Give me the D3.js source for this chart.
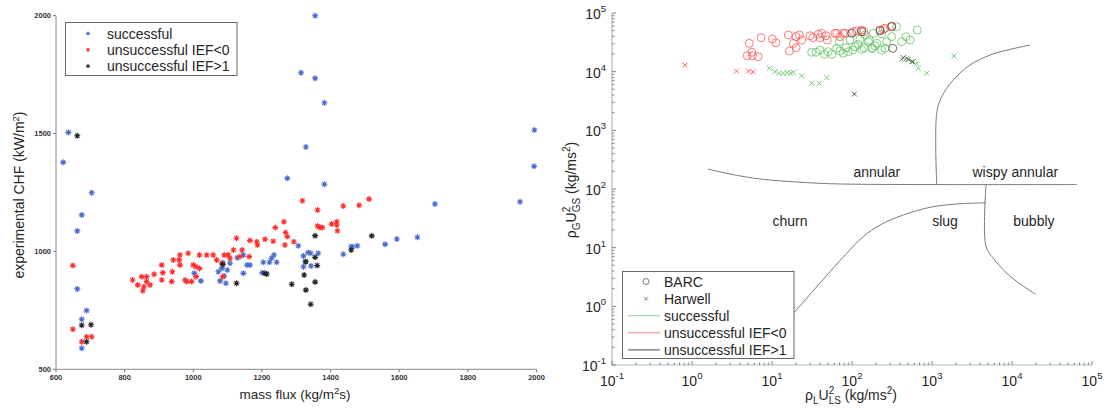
<!DOCTYPE html>
<html>
<head>
<meta charset="utf-8">
<script src="https://cdn.jsdelivr.net/npm/d3@7"></script>
<style>
  body { margin: 0; background: #fff; }
  svg { display: block; font-family: "Liberation Sans", Arial, Helvetica, sans-serif; }
</style>
</head>
<body>
<svg id="chart" width="1107" height="409"></svg>
<script>
// ---------- CHF test results: [mass flux (kg/m2s), experimental CHF (kW/m2)] ----------
const chfSuccessful = [
  [636,1505],[621,1378],[704,1249],[675,1155],[662,1087],[662,841],[689,749],[675,712],[675,589],
  [1274,1310],[1314,1758],[1355,2000],[1355,1735],[1382,1631],[1328,1443],[1382,1285],[1994,1515],
  [1993,1361],[1704,1201],[1952,1211],
  [1003,907],[1022,875],[1073,914],[1078,875],[1083,928],[1086,952],[1090,896],[1095,865],[1099,921],
  [1107,950],[1128,973],[1146,985],[1146,907],[1157,942],[1165,942],[1201,910],[1204,954],[1222,954],
  [1228,971],[1235,985],[1243,954],[1306,1024],[1321,981],[1335,995],[1342,992],[1326,956],[1321,935],
  [1343,938],[1364,992],[1437,988],[1460,1020],[1464,1020],[1478,1024],[1559,1030],[1593,1053],[1653,1060]
];
const chfNegIEF = [
  [649,940],[649,670],[675,617],[689,638],[704,638],
  [823,879],[838,858],[850,893],[856,850],[853,833],[864,872],[864,893],[874,858],[886,903],[908,879],
  [911,910],[908,942],[937,872],[939,914],[942,964],[961,985],[961,942],[959,964],[976,879],[981,872],
  [985,992],[995,872],[1000,942],[1008,935],[1008,893],[1018,985],[1018,928],[1039,985],[1058,985],
  [1068,964],[1083,950],[1086,893],[1090,985],[1102,985],[1107,971],[1117,1006],[1126,1056],[1136,978],
  [1142,1006],[1165,1046],[1163,978],[1185,1041],[1187,1027],[1209,1052],[1233,1043],[1239,1101],
  [1264,1126],[1269,1080],[1274,1063],[1267,1027],[1293,1041],
  [1318,1215],[1362,1176],[1437,1193],[1483,1196],[1512,1222],[1362,1108],[1369,1102],[1376,1102],
  [1403,1116],[1418,1126],[1418,1112],[1420,1088]
];
const chfHighIEF = [
  [662,1491],[675,687],[702,689],[689,617],
  [1086,945],[1126,865],[1209,907],[1214,904],[1287,861],[1355,1067],[1520,1066],[1328,956],[1361,940],
  [1323,900],[1355,870],[1328,836],[1342,776],[1460,1006],[1355,975]
];
const chfXTicks = [600, 800, 1000, 1200, 1400, 1600, 1800, 2000];
const chfYTicks = [500, 1000, 1500, 2000];
const chfSeriesNames = ["successful", "unsuccessful IEF<0", "unsuccessful IEF>1"];

// ---------- Flow regime map: [rho_L U_LS^2, rho_G U_GS^2] in kg/ms2 ----------
const barcSuccessful = [
  [35.5,21400],[39.8,23400],[50.5,21900],[55.7,19800],[64.4,25000],[70.8,22500],[84.1,25600],[89.9,21900],
  [109,26600],[120,29200],[141,25600],[160,32400],[176,25000],[194,27700],[69.4,32400],[94.4,34600],
  [77.8,20600],[102,23400],[132,24000],[145,42200],[165,34600],[181,25000],[204,30400],[235,23400],
  [259,25000],[271,32400],[313,39500],[362,58400],[418,32400],[473,39500],[531,34600],[655,51300],
  [235,43900],[185,45100],[126,35600],[31.3,21400],[45.1,19800]
];
const barcNegIEF = [
  [5.2,30400],[7.3,37900],[10.1,36000],[11.2,31100],[16,42200],[20,39500],[21.9,42200],[23.5,34600],
  [29.9,41000],[32.3,37900],[37.9,43300],[39.8,37900],[41.8,45100],[47.3,41000],[49.1,34600],[64.4,45100],
  [70.8,39500],[81.8,45100],[104,48000],[114,49300],[132,51300],[141,48000],[224,51300],[259,54800],
  [313,60000],[246,52900],[4.9,18700],[5.6,21400],[5.7,18700],[6.7,18000],[16.5,22500],[20,25600],
  [18.5,30400],[61.3,45100],[77.8,45100]
];
const barcHighIEF = [[99,45100],[132,48000],[224,49900],[313,58400],[323,25000]];

const harwellSuccessful = [
  [9.25,11400],[10.9,9970],[12.3,9380],[13.8,9380],[15.5,9600],[17.1,9380],[18.5,9750],[23.5,8530],
  [31.3,6330],[39,6330],[48.3,7890],[418,16200],[483,16900],[557,14800],[644,13900],[674,11400],
  [859,9380],[1880,18500]
];
const harwellNegIEF = [[0.82,13000],[3.6,10200],[5.1,10200],[5.8,9900]];
const harwellHighIEF = [[107,4160],[438,17300],[505,16200],[574,14800]];

// regime transition boundaries
const boundaryAnnularChurn = [[1.58,219],[2.99,180],[7.08,148],[16.8,134],[39.8,125],[94.4,121],[1155,119],[64900,119]];
const boundaryAnnularWispy = [[1145,119],[1145,1950],[1322,3740],[1846,7210],[2985,12970],[5309,19200],[9441,24000],[16790,28400]];
const boundaryChurnSlug = [[12.6,0.428],[18.5,0.76],[53.1,3.89],[85.9,8.02],[138,15.4],[224,24.3],[438,36.1],[944,48.7],[2036,55.5],[4732,58.3]];
const boundarySlugBubbly = [[4732,119],[4732,10.4],[5840,6.59],[8590,3.66],[13200,2.31],[19800,1.60]];

const regimeNames = ["annular", "wispy annular", "churn", "slug", "bubbly"];
const regimeAnchors = [[204,197],[11000,197],[16.8,28.8],[1454,28.8],[18800,28.8]];

const mapTickExponents = [-1, 0, 1, 2, 3, 4, 5];
const mapLegendNames = ["BARC", "Harwell", "successful", "unsuccessful IEF<0", "unsuccessful IEF>1"];

// ---------- drawing ----------
const svg = d3.select("#chart");
const txt = "#262626";

// left panel
const xL = d3.scaleLinear().domain([600, 2000]).range([56, 536.5]);
const yL = d3.scaleLinear().domain([500, 2000]).range([369.3, 15.7]);

const gL = svg.append("g");
gL.append("line").attr("x1", xL(600)).attr("x2", xL(2000)).attr("y1", yL(500)).attr("y2", yL(500))
  .attr("stroke", "#8a8a8a").attr("stroke-width", 1);
gL.append("line").attr("x1", xL(600)).attr("x2", xL(600)).attr("y1", yL(500)).attr("y2", yL(2000))
  .attr("stroke", "#8a8a8a").attr("stroke-width", 1);

chfXTicks.forEach(t => {
  gL.append("line").attr("x1", xL(t)).attr("x2", xL(t)).attr("y1", yL(500)).attr("y2", yL(500) + 3)
    .attr("stroke", "#777");
  gL.append("text").attr("x", xL(t)).attr("y", yL(500) + 10.5).attr("text-anchor", "middle")
    .attr("font-size", 7.5).attr("font-weight", "bold").attr("fill", "#333").text(t);
});
chfYTicks.forEach(t => {
  gL.append("line").attr("x1", xL(600) - 3).attr("x2", xL(600)).attr("y1", yL(t)).attr("y2", yL(t))
    .attr("stroke", "#777");
  gL.append("text").attr("x", xL(600) - 5).attr("y", yL(t) + 2.7).attr("text-anchor", "end")
    .attr("font-size", 7.5).attr("font-weight", "bold").attr("fill", "#333").text(t);
});

function asterisk(s) {
  const a = s * 0.7;
  return `M${-s},0H${s}M0,${-s}V${s}M${-a},${-a}L${a},${a}M${-a},${a}L${a},${-a}`;
}
const chfColors = ["#4a6cd0", "#ff2e2e", "#262626"];
[chfSuccessful, chfNegIEF, chfHighIEF].forEach((pts, i) => {
  gL.append("g").selectAll("path").data(pts).join("path")
    .attr("transform", d => `translate(${xL(d[0])},${yL(d[1])})`)
    .attr("d", asterisk(3)).attr("fill", "none")
    .attr("stroke", chfColors[i]).attr("stroke-width", 1.1);
});

// left legend
const legL = gL.append("g");
legL.append("rect").attr("x", 65.5).attr("y", 22.5).attr("width", 171.5).attr("height", 53)
  .attr("fill", "#fff").attr("stroke", "#666").attr("stroke-width", 1);
chfSeriesNames.forEach((name, i) => {
  const cy = 33.5 + i * 16.3;
  legL.append("path").attr("transform", `translate(88,${cy})`).attr("d", asterisk(2))
    .attr("fill", "none").attr("stroke", chfColors[i]).attr("stroke-width", 1);
  legL.append("text").attr("x", 107).attr("y", cy + 5).attr("font-size", 14).attr("fill", txt).text(name);
});

// left axis titles
const xTitleL = gL.append("text").attr("x", 295).attr("y", 399).attr("text-anchor", "middle")
  .attr("font-size", 13.5).attr("fill", txt);
xTitleL.append("tspan").text("mass flux (kg/m");
xTitleL.append("tspan").attr("dy", -5).attr("font-size", 9.5).text("2");
xTitleL.append("tspan").attr("dy", 5).text("s)");

const yTitleL = gL.append("text").attr("transform", "translate(24,195) rotate(-90)")
  .attr("text-anchor", "middle").attr("font-size", 14).attr("fill", txt);
yTitleL.append("tspan").text("experimental CHF (kW/m");
yTitleL.append("tspan").attr("dy", -5).attr("font-size", 9.5).text("2");
yTitleL.append("tspan").attr("dy", 5).text(")");

// right panel
const xR = d3.scaleLog().domain([0.1, 1e5]).range([612, 1092]);
const yR = d3.scaleLog().domain([0.1, 1e5]).range([365, 13]);
const gR = svg.append("g");

gR.append("line").attr("x1", xR(0.1)).attr("x2", xR(1e5)).attr("y1", yR(0.1)).attr("y2", yR(0.1))
  .attr("stroke", "#a7c3c6").attr("stroke-width", 1.2);
gR.append("line").attr("x1", xR(0.1)).attr("x2", xR(0.1)).attr("y1", yR(0.1)).attr("y2", yR(1e5))
  .attr("stroke", "#a7c3c6").attr("stroke-width", 1.2);

const tickVals = [];
for (let e = -1; e < 5; e++) for (let k = 1; k < 10; k++) tickVals.push({ v: k * Math.pow(10, e), major: k === 1 });
tickVals.push({ v: 1e5, major: true });
tickVals.forEach(t => {
  const len = t.major ? 4 : 2.5;
  gR.append("line").attr("x1", xR(t.v)).attr("x2", xR(t.v)).attr("y1", yR(0.1)).attr("y2", yR(0.1) - len)
    .attr("stroke", "#666").attr("stroke-width", 0.8);
  gR.append("line").attr("x1", xR(0.1)).attr("x2", xR(0.1) + len).attr("y1", yR(t.v)).attr("y2", yR(t.v))
    .attr("stroke", "#666").attr("stroke-width", 0.8);
});

mapTickExponents.forEach(e => {
  const v = Math.pow(10, e);
  const tx = gR.append("text").attr("x", xR(v)).attr("y", yR(0.1) + 21).attr("text-anchor", "middle")
    .attr("font-size", 14).attr("fill", txt);
  tx.append("tspan").text("10");
  tx.append("tspan").attr("dy", -7).attr("font-size", 9.5).text(e);
  const ty = gR.append("text").attr("x", xR(0.1) - 6).attr("y", yR(v) + 6).attr("text-anchor", "end")
    .attr("font-size", 14).attr("fill", txt);
  ty.append("tspan").text("10");
  ty.append("tspan").attr("dy", -7).attr("font-size", 9.5).text(e);
});

// regime boundaries
const line = d3.line().x(d => xR(d[0])).y(d => yR(d[1])).curve(d3.curveCatmullRom.alpha(0.5));
[boundaryAnnularChurn, boundaryAnnularWispy, boundaryChurnSlug, boundarySlugBubbly].forEach(b => {
  gR.append("path").attr("d", line(b)).attr("fill", "none").attr("stroke", "#7a7a7a").attr("stroke-width", 1);
});

regimeNames.forEach((n, i) => {
  gR.append("text").attr("x", xR(regimeAnchors[i][0])).attr("y", yR(regimeAnchors[i][1]) + 5)
    .attr("text-anchor", "middle").attr("font-size", 14).attr("fill", txt).text(n);
});

// data markers
const mapColors = { ok: "#5cc25c", neg: "#ff4f4f", high: "#3a3a3a" };
function circles(pts, color) {
  gR.append("g").selectAll("circle").data(pts).join("circle")
    .attr("cx", d => xR(d[0])).attr("cy", d => yR(d[1])).attr("r", 4)
    .attr("fill", "none").attr("stroke", color).attr("stroke-width", 1).attr("stroke-opacity", 0.75);
}
function crosses(pts, color) {
  gR.append("g").selectAll("path").data(pts).join("path")
    .attr("transform", d => `translate(${xR(d[0])},${yR(d[1])})`)
    .attr("d", "M-2.5,-2.5L2.5,2.5M-2.5,2.5L2.5,-2.5")
    .attr("fill", "none").attr("stroke", color).attr("stroke-width", 1).attr("stroke-opacity", 0.85);
}
circles(barcNegIEF, mapColors.neg);
circles(barcSuccessful, mapColors.ok);
circles(barcHighIEF, mapColors.high);
crosses(harwellNegIEF, mapColors.neg);
crosses(harwellSuccessful, mapColors.ok);
crosses(harwellHighIEF, mapColors.high);

// right legend
const legR = gR.append("g");
legR.append("rect").attr("x", 622.5).attr("y", 271.5).attr("width", 171.5).attr("height", 87)
  .attr("fill", "#fff").attr("stroke", "#666").attr("stroke-width", 1);
const legLineColors = [null, null, "#9be09b", "#ff9c9c", "#666"];
mapLegendNames.forEach((n, i) => {
  const cy = 281.5 + i * 17.1;
  if (i === 0) {
    legR.append("circle").attr("cx", 646).attr("cy", cy).attr("r", 3).attr("fill", "none")
      .attr("stroke", "#777").attr("stroke-width", 1);
  } else if (i === 1) {
    legR.append("path").attr("transform", `translate(646,${cy})`).attr("d", "M-2,-2L2,2M-2,2L2,-2")
      .attr("fill", "none").attr("stroke", "#888").attr("stroke-width", 1);
  } else {
    legR.append("line").attr("x1", 628).attr("x2", 660).attr("y1", cy).attr("y2", cy)
      .attr("stroke", legLineColors[i]).attr("stroke-width", 1.2);
  }
  legR.append("text").attr("x", 664).attr("y", cy + 5).attr("font-size", 14).attr("fill", txt).text(n);
});

// right axis titles
const xTitleR = gR.append("text").attr("x", 851).attr("y", 400).attr("text-anchor", "middle")
  .attr("font-size", 14).attr("fill", txt);
xTitleR.append("tspan").text("\u03C1");
xTitleR.append("tspan").attr("dy", 4).attr("font-size", 10).text("L");
xTitleR.append("tspan").attr("dy", -4).text("U");
xTitleR.append("tspan").attr("dy", -6).attr("font-size", 10).text("2");
xTitleR.append("tspan").attr("dx", -5.6).attr("dy", 10).attr("font-size", 10).text("LS");
xTitleR.append("tspan").attr("dy", -4).text(" (kg/ms");
xTitleR.append("tspan").attr("dy", -6).attr("font-size", 10).text("2");
xTitleR.append("tspan").attr("dy", 6).text(")");

const yTitleR = gR.append("text").attr("transform", "translate(576,190) rotate(-90)")
  .attr("text-anchor", "middle").attr("font-size", 14).attr("fill", txt);
yTitleR.append("tspan").text("\u03C1");
yTitleR.append("tspan").attr("dy", 4).attr("font-size", 10).text("G");
yTitleR.append("tspan").attr("dy", -4).text("U");
yTitleR.append("tspan").attr("dy", -6).attr("font-size", 10).text("2");
yTitleR.append("tspan").attr("dx", -5.6).attr("dy", 10).attr("font-size", 10).text("GS");
yTitleR.append("tspan").attr("dy", -4).text(" (kg/ms");
yTitleR.append("tspan").attr("dy", -6).attr("font-size", 10).text("2");
yTitleR.append("tspan").attr("dy", 6).text(")");
</script>
</body>
</html>
